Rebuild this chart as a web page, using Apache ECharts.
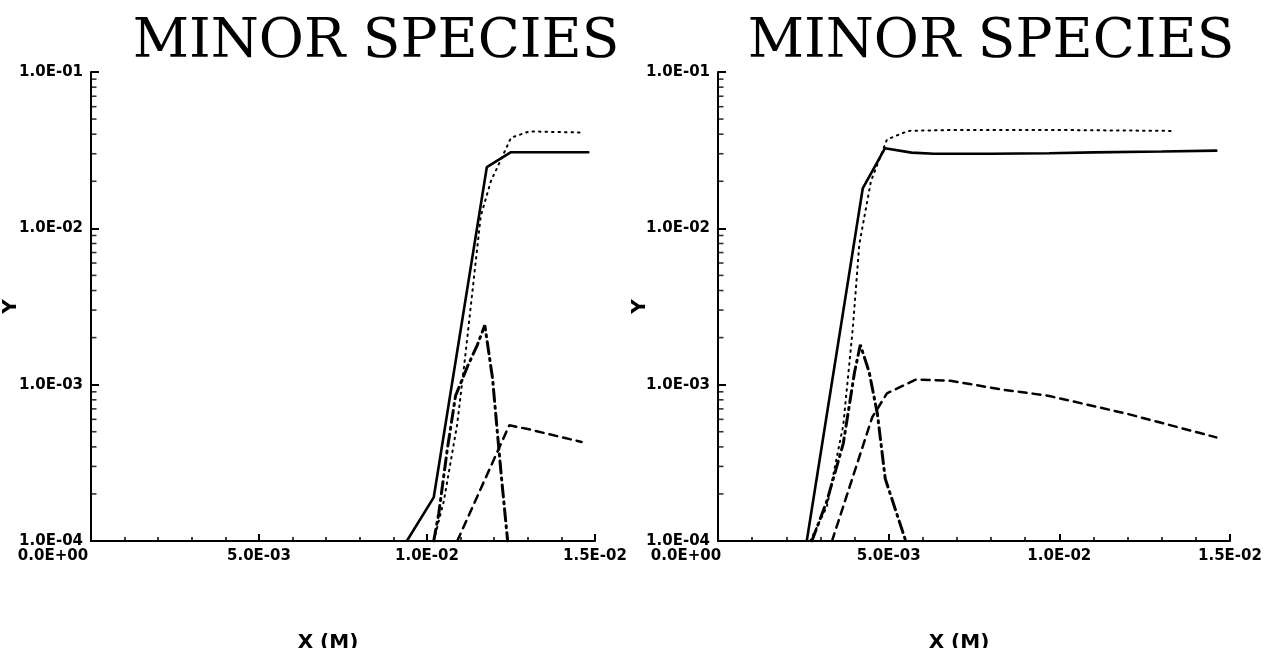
<!DOCTYPE html>
<html>
<head>
<meta charset="utf-8">
<script src="https://cdn.jsdelivr.net/npm/echarts@6/dist/echarts.min.js"></script>
<style>
html,body{margin:0;padding:0;background:#fff;}
#chart{width:1269px;height:648px;}
</style>
</head>
<body>
<div id="chart"></div>
<script>
// ---------- data ----------
const titleText = 'MINOR SPECIES';
const xAxisName = 'X (M)';
const yAxisName = 'Y';
const xTickLabels = ['0.0E+00', '5.0E-03', '1.0E-02', '1.5E-02'];
const yTickLabels = ['1.0E-04', '1.0E-03', '1.0E-02', '1.0E-01'];
const yMinorTicks = [2e-4,3e-4,4e-4,5e-4,6e-4,7e-4,8e-4,9e-4,
                     2e-3,3e-3,4e-3,5e-3,6e-3,7e-3,8e-3,9e-3,
                     2e-2,3e-2,4e-2,5e-2,6e-2,7e-2,8e-2,9e-2];

// left panel
const leftSolid   = [[0.0094,1e-4],[0.0102,1.9e-4],[0.01178,0.0246],[0.0125,0.0307],[0.0148,0.0307]];
const leftDotted  = [[0.0102,1e-4],[0.0105,1.8e-4],[0.0109,5.6e-4],[0.01115,1.6e-3],[0.0116,0.012],[0.0119,0.020],[0.0122,0.0275],[0.0125,0.038],[0.01305,0.0417],[0.0146,0.041]];
const leftDashDot = [[0.0102,1e-4],[0.01035,1.5e-4],[0.0106,3.8e-4],[0.01085,8.5e-4],[0.0112,1.3e-3],[0.0115,1.8e-3],[0.01172,2.4e-3],[0.01195,1.1e-3],[0.0121,4.8e-4],[0.01222,2.5e-4],[0.0124,1e-4]];
const leftDashed  = [[0.0109,1e-4],[0.01245,5.5e-4],[0.0130,5.2e-4],[0.0135,4.9e-4],[0.0146,4.3e-4]];

// right panel
const rightSolid   = [[0.0026,1e-4],[0.00424,0.018],[0.00489,0.0325],[0.00567,0.0305],[0.00633,0.0300],[0.0080,0.0300],[0.0097,0.0302],[0.0110,0.0306],[0.0130,0.0310],[0.0146,0.0314]];
const rightDotted  = [[0.0027,1e-4],[0.00319,1.66e-4],[0.00367,5.5e-4],[0.00395,2.3e-3],[0.00414,7.9e-3],[0.00448,0.020],[0.00495,0.037],[0.00557,0.042],[0.0070,0.0426],[0.0097,0.0426],[0.0133,0.042]];
const rightDashDot = [[0.00275,1e-4],[0.00319,1.8e-4],[0.00367,4.2e-4],[0.0040,1.2e-3],[0.00417,1.8e-3],[0.00443,1.2e-3],[0.00467,6.5e-4],[0.0049,2.5e-4],[0.0055,1e-4]];
const rightDashed  = [[0.00334,1e-4],[0.00405,3e-4],[0.00452,6.2e-4],[0.00495,8.8e-4],[0.00581,1.08e-3],[0.00681,1.06e-3],[0.00833,9.3e-4],[0.00967,8.5e-4],[0.0120,6.5e-4],[0.0146,4.6e-4]];

// ---------- chart ----------
const labelFont = {color:'#000', fontFamily:'DejaVu Sans', fontWeight:'bold', fontSize:15};
function xFmt(v){
  const i = Math.round(v/0.005);
  const t = xTickLabels[i] !== undefined ? xTickLabels[i] : '';
  return i === 0 ? '{m|' + t + '}' : t;
}
function yFmt(v){ const i = Math.round(Math.log10(v)) + 4; return yTickLabels[i] !== undefined ? yTickLabels[i] : ''; }

const grids = [
  {left:91, top:72, width:504, height:469, outerBoundsMode:'none', containLabel:false},
  {left:718, top:72, width:512, height:469, outerBoundsMode:'none', containLabel:false}
];

function xAxisFor(i){
  return {
    gridIndex:i, type:'value', min:0, max:0.015, interval:0.005,
    name:xAxisName, nameLocation:'middle', nameGap:92, nameMoveOverlap:false,
    nameTextStyle:{color:'#000', fontFamily:'DejaVu Sans', fontWeight:'bold', fontSize:20, padding:[0,30,0,0]},
    axisLine:{show:true, lineStyle:{color:'#000', width:2}},
    axisTick:{show:true, inside:true, length:7, lineStyle:{color:'#000', width:2}},
    minorTick:{show:true, splitNumber:5, length:4, lineStyle:{color:'#000', width:1.5}},
    axisLabel:{...labelFont, margin:8, formatter:xFmt, showMinLabel:true, showMaxLabel:true,
      rich:{m:{...labelFont, padding:[0, i === 0 ? 76 : 64, 0, 0]}}},
    splitLine:{show:false}
  };
}
function yAxisFor(i){
  return {
    gridIndex:i, type:'log', logBase:10, min:1e-4, max:1e-1,
    name:yAxisName, nameLocation:'middle', nameGap: i === 0 ? 70 : 68, nameRotate:90, nameMoveOverlap:false,
    nameTextStyle:{color:'#000', fontFamily:'DejaVu Sans', fontWeight:'bold', fontSize:20},
    axisLine:{show:true, lineStyle:{color:'#000', width:2}},
    axisTick:{show:true, inside:true, length:8, lineStyle:{color:'#000', width:2}},
    axisLabel:{...labelFont, margin:8, formatter:yFmt},
    splitLine:{show:false}
  };
}

function lineSeries(data, i, type, width){
  return {type:'line', xAxisIndex:i, yAxisIndex:i, data:data, showSymbol:false, symbol:'none',
    silent:true, animation:false, clip:true,
    lineStyle:{color:'#000', width:width, type:type, cap:'round'}};
}
function minorTickSeries(i){
  return {type:'scatter', xAxisIndex:i, yAxisIndex:i, silent:true, animation:false,
    data: yMinorTicks.map(v => [0, v]), symbol:'rect', symbolSize:[5,1.6], symbolOffset:[3,0],
    itemStyle:{color:'#000'}, clip:false};
}

const series = [];
[[leftSolid,leftDotted,leftDashDot,leftDashed],[rightSolid,rightDotted,rightDashDot,rightDashed]].forEach((s, i) => {
  series.push(lineSeries(s[0], i, 'solid', 2.6));
  series.push(lineSeries(s[1], i, [1.5,5], 2));
  series.push(lineSeries(s[2], i, [12,5,2,5], 3));
  series.push(lineSeries(s[3], i, [8,6], 2.5));
  series.push(minorTickSeries(i));
});

const titleStyle = {color:'#000', fontFamily:'DejaVu Serif', fontWeight:'normal', fontSize:55};
const chart = echarts.init(document.getElementById('chart'), null, {renderer:'canvas'});
chart.setOption({
  backgroundColor:'#fff',
  animation:false,
  title:[
    {text:titleText, left:371, top:10, textAlign:'center', textStyle:titleStyle},
    {text:titleText, left:986, top:10, textAlign:'center', textStyle:titleStyle}
  ],
  grid:grids,
  xAxis:[xAxisFor(0), xAxisFor(1)],
  yAxis:[yAxisFor(0), yAxisFor(1)],
  series:series
});
</script>
</body>
</html>
